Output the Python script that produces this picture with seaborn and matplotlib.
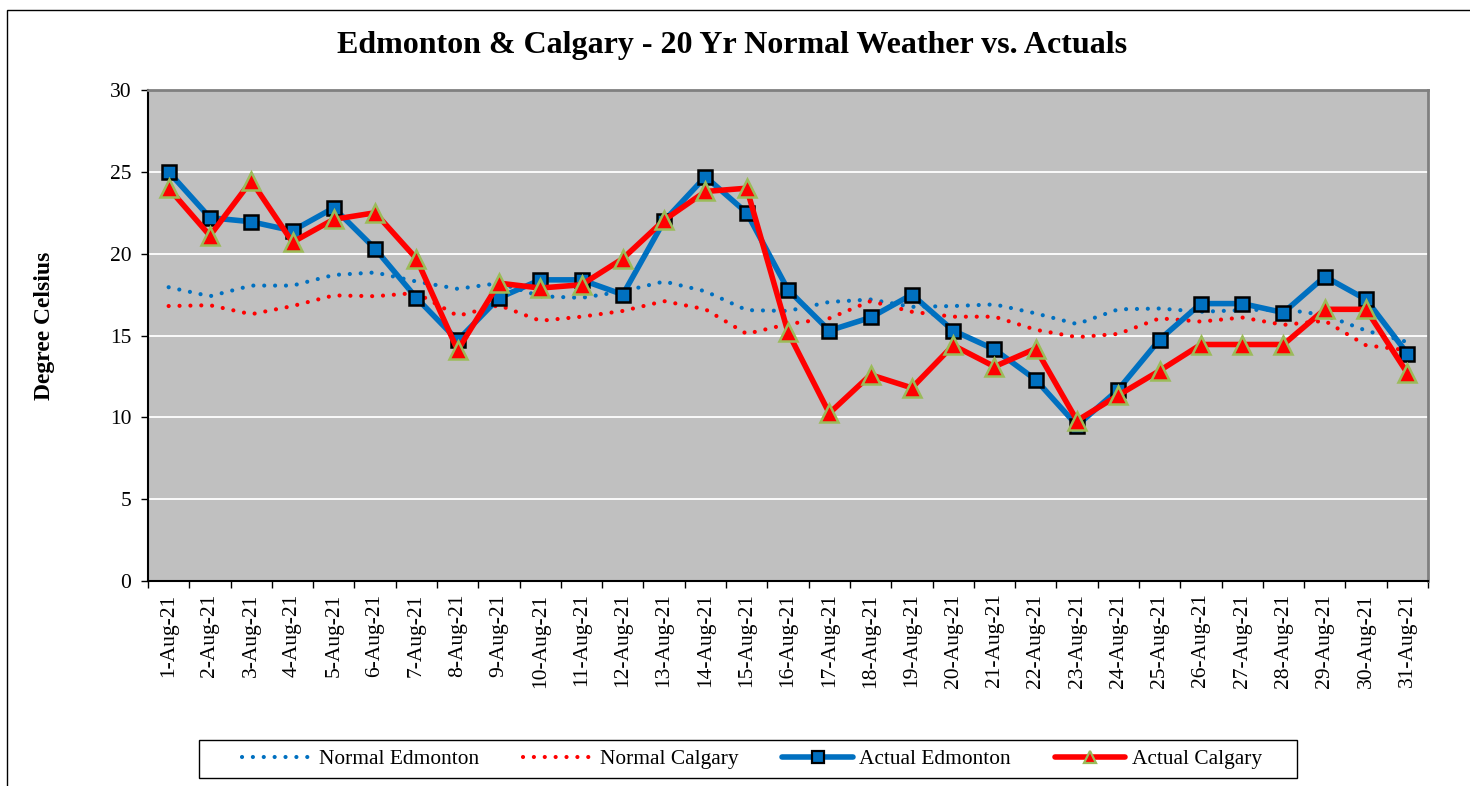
import numpy as np
import pandas as pd
import matplotlib
matplotlib.use("Agg")
import matplotlib.pyplot as plt
import seaborn as sns
from matplotlib.patches import Rectangle
from matplotlib.lines import Line2D

# ---- data ----
days = ["1-Aug-21", "2-Aug-21", "3-Aug-21", "4-Aug-21", "5-Aug-21", "6-Aug-21", "7-Aug-21",
        "8-Aug-21", "9-Aug-21", "10-Aug-21", "11-Aug-21", "12-Aug-21", "13-Aug-21", "14-Aug-21",
        "15-Aug-21", "16-Aug-21", "17-Aug-21", "18-Aug-21", "19-Aug-21", "20-Aug-21", "21-Aug-21",
        "22-Aug-21", "23-Aug-21", "24-Aug-21", "25-Aug-21", "26-Aug-21", "27-Aug-21", "28-Aug-21",
        "29-Aug-21", "30-Aug-21", "31-Aug-21"]
normal_edmonton = [17.95, 17.4, 18.05, 18.05, 18.7, 18.85, 18.3, 17.85, 18.2, 17.4, 17.3, 17.7,
                   18.3, 17.7, 16.55, 16.5, 17.05, 17.2, 16.75, 16.8, 16.9, 16.35, 15.7, 16.6,
                   16.65, 16.45, 16.55, 16.6, 16.25, 15.3, 14.6]
normal_calgary = [16.8, 16.85, 16.3, 16.8, 17.45, 17.4, 17.6, 16.2, 16.85, 15.9, 16.15, 16.5,
                  17.1, 16.6, 15.1, 15.7, 16.05, 17.1, 16.45, 16.15, 16.15, 15.35, 14.9, 15.1,
                  16.05, 15.85, 16.1, 15.65, 15.9, 14.4, 14.1]
actual_edmonton = [25.0, 22.2, 21.95, 21.4, 22.8, 20.3, 17.3, 14.7, 17.3, 18.4, 18.4, 17.5,
                   22.0, 24.7, 22.5, 17.8, 15.3, 16.1, 17.5, 15.3, 14.15, 12.3, 9.5, 11.7,
                   14.75, 16.95, 16.95, 16.4, 18.6, 17.2, 13.9]
actual_calgary = [24.0, 21.1, 24.45, 20.7, 22.1, 22.5, 19.7, 14.1, 18.2, 17.9, 18.1, 19.7,
                  22.05, 23.8, 24.0, 15.2, 10.25, 12.6, 11.8, 14.4, 13.1, 14.2, 9.8, 11.35,
                  12.85, 14.45, 14.45, 14.45, 16.6, 16.6, 12.7]
yticks = [0, 5, 10, 15, 20, 25, 30]

BLUE = "#0070C0"
RED = "#FF0000"
GREEN_EDGE = "#9BBB59"
SERIF = ["Liberation Serif", "DejaVu Serif"]

sns.set_theme(style="white")
plt.rcParams["font.family"] = SERIF
plt.rcParams["text.color"] = "black"
plt.rcParams["axes.labelcolor"] = "black"
plt.rcParams["xtick.color"] = "black"
plt.rcParams["ytick.color"] = "black"

pos = np.arange(len(days))
df = pd.DataFrame({"pos": pos, "ne": normal_edmonton, "nc": normal_calgary,
                   "ae": actual_edmonton, "ac": actual_calgary})

W, H = 1470, 786
fig = plt.figure(figsize=(W / 100, H / 100), dpi=100)
ax = fig.add_axes([148 / W, 1 - 581 / H, 1280 / W, 491 / H])
ax.set_facecolor("#C0C0C0")

# outer chart border
fig.add_artist(Rectangle((7 / W, -0.05), 1.1, 1 - 10 / H + 0.05, transform=fig.transFigure,
                         fill=False, edgecolor="#000000", linewidth=1.0))

dot_kw = dict(linewidth=3.0, dashes=(0.01, 2.6), dash_capstyle="round")
sns.lineplot(data=df, x="pos", y="ne", ax=ax, color=BLUE, zorder=3, **dot_kw)
sns.lineplot(data=df, x="pos", y="nc", ax=ax, color=RED, zorder=3, **dot_kw)
sns.lineplot(data=df, x="pos", y="ae", ax=ax, color=BLUE, linewidth=4.0, marker="s",
             markersize=10.5, markerfacecolor=BLUE, markeredgecolor="black", markeredgewidth=1.8,
             zorder=4)
sns.lineplot(data=df, x="pos", y="ac", ax=ax, color=RED, linewidth=4.0, marker="^",
             markersize=13, markerfacecolor=RED, markeredgecolor=GREEN_EDGE, markeredgewidth=1.8,
             zorder=5)

ax.set_xlim(-0.5, len(days) - 0.5)
ax.set_ylim(0, 30)
ax.set_yticks(yticks)
ax.set_yticklabels([str(v) for v in yticks], fontsize=15.5, family=SERIF, color="black")
ax.grid(axis="y", color="white", linewidth=1.3)
ax.grid(axis="x", visible=False)
ax.set_axisbelow(True)

ax.set_xticks(pos)
ax.set_xticklabels(days, rotation=90, fontsize=15.5, family=SERIF, va="top", ha="center",
                   color="black")
ax.set_xticks(np.arange(-0.5, len(days)), minor=True)
ax.tick_params(axis="x", which="major", length=0, pad=9)
ax.tick_params(axis="x", which="minor", length=5, width=1, color="black", direction="out",
               bottom=True)
ax.tick_params(axis="y", which="major", length=5, width=1, color="black", direction="out",
               left=True, pad=7)
ax.set_xlabel("")
ax.set_ylabel("Degree Celsius", fontsize=17, fontweight="bold", family=SERIF, color="black")
ax.yaxis.set_label_coords((55 - 148) / 1280, (581 - 326) / 491)

for side in ["left", "bottom"]:
    ax.spines[side].set_color("black")
    ax.spines[side].set_linewidth(1.5)
for side in ["top", "right"]:
    ax.spines[side].set_color("#808080")
    ax.spines[side].set_linewidth(2.0)

fig.text(0.498, 1 - 46 / H, "Edmonton & Calgary - 20 Yr Normal Weather vs. Actuals",
         ha="center", va="center", fontsize=23, fontweight="bold", family=SERIF, color="black")

handles = [
    Line2D([], [], color=BLUE, **dot_kw),
    Line2D([], [], color=RED, **dot_kw),
    Line2D([], [], color=BLUE, linewidth=4.0, marker="s", markersize=8, markerfacecolor=BLUE,
           markeredgecolor="black", markeredgewidth=1.6),
    Line2D([], [], color=RED, linewidth=4.0, marker="^", markersize=9, markerfacecolor=RED,
           markeredgecolor=GREEN_EDGE, markeredgewidth=1.6),
]
labels = ["Normal Edmonton", "Normal Calgary", "Actual Edmonton", "Actual Calgary"]
leg = fig.legend(handles, labels, loc="center", bbox_to_anchor=(752 / W, 1 - 759 / H), ncol=4,
                 frameon=False, handlelength=3.3,
                 handletextpad=0.3, columnspacing=2.05, borderpad=0.3,
                 prop={"family": SERIF, "size": 15.4})
for t in leg.get_texts():
    t.set_color("black")
# legend box
fig.add_artist(Rectangle((199 / W, 1 - 778 / H), 1098 / W, 38 / H, transform=fig.transFigure,
                         fill=False, edgecolor="black", linewidth=1.0))

fig.savefig("out.png", dpi=100)
